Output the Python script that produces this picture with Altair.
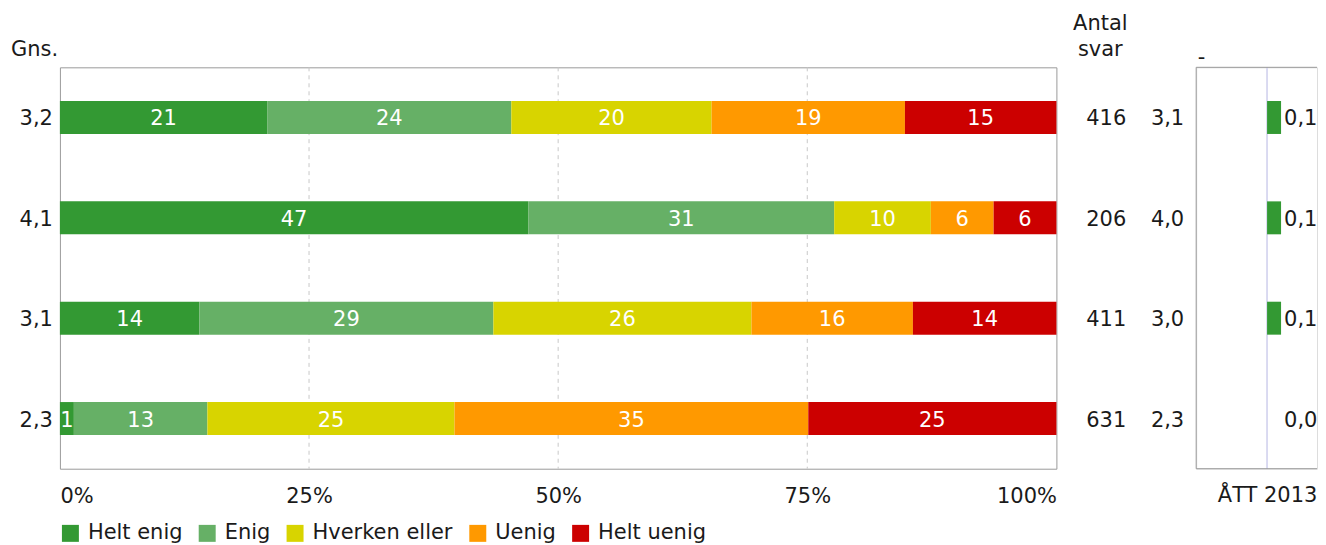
import altair as alt
import pandas as pd

# ---- data ----
categories = ["Helt enig", "Enig", "Hverken eller", "Uenig", "Helt uenig"]
colors = ["#339933", "#66b066", "#d8d400", "#ff9900", "#cc0000"]
rows = [1, 2, 3, 4]
pct = [
    [20.8, 24.5, 20.1, 19.4, 15.2],
    [47.0, 30.7, 9.7, 6.3, 6.3],
    [14.0, 29.5, 25.9, 16.2, 14.4],
    [1.4, 13.4, 24.8, 35.5, 24.9],
]
shown = [
    [21, 24, 20, 19, 15],
    [47, 31, 10, 6, 6],
    [14, 29, 26, 16, 14],
    [1, 13, 25, 35, 25],
]
gns = [3.2, 4.1, 3.1, 2.3]
antal = [416, 206, 411, 631]
att_gns = [3.1, 4.0, 3.0, 2.3]
att_diff = [0.1, 0.1, 0.1, 0.0]
x_ticks = [0, 25, 50, 75, 100]
grid_vals = [25, 50, 75]

FONT = "DejaVu Sans"
TXT = "#1a1a1a"
FS = 21
FRAME = "#9a9a9a"
DY = 2

# ---- tables ----
seg_records = []
for r, vals, labs in zip(rows, pct, shown):
    tot = sum(vals)
    acc = 0.0
    for c, v, l in zip(categories, vals, labs):
        s = acc / tot * 100
        acc += v
        e = acc / tot * 100
        seg_records.append({"row": r, "cat": c, "start": s, "end": e,
                            "mid": (s + e) / 2, "lab": str(l)})
seg = pd.DataFrame(seg_records)
rowdf = pd.DataFrame({"row": rows, "gns": gns, "antal": antal,
                      "att": att_gns, "diff": att_diff})
griddf = pd.DataFrame({"g": grid_vals})
one = pd.DataFrame({"k": [0]})

W, H = 998, 402
RW = 121
xscale = alt.Scale(domain=[0, 100], nice=False, zero=False)
xaxis = alt.Axis(values=x_ticks, labelExpr="datum.value + '%'", labelFlush=True,
                 ticks=False, domain=False, grid=False, labelFontSize=FS,
                 labelPadding=17, labelColor=TXT, title=None, labelFont=FONT)
yenc = alt.Y("row:O", axis=None, scale=alt.Scale(paddingInner=0, paddingOuter=0))

grid = alt.Chart(griddf).mark_rule(color="#c8c8c8", strokeDash=[4, 4]).encode(
    x=alt.X("g:Q", scale=xscale, axis=xaxis))

bars = alt.Chart(seg).mark_bar(size=33).encode(
    x=alt.X("start:Q", scale=xscale, axis=xaxis),
    x2="end:Q",
    y=yenc,
    color=alt.Color("cat:N", scale=alt.Scale(domain=categories, range=colors),
                    legend=alt.Legend(orient="none", legendX=0, legendY=456,
                                      direction="horizontal", title=None,
                                      symbolType="square", symbolSize=289,
                                      symbolStrokeWidth=0, labelFontSize=FS,
                                      labelFont=FONT, labelColor=TXT,
                                      columnPadding=14, labelOffset=7)),
)

bar_labels = alt.Chart(seg).mark_text(color="white", fontSize=FS, font=FONT, dy=DY).encode(
    x=alt.X("mid:Q", scale=xscale, axis=xaxis), y=yenc, text="lab:N")

gns_text = alt.Chart(rowdf).transform_calculate(
    s="replace(format(datum.gns, '.1f'), '.', ',')"
).mark_text(align="right", fontSize=FS, font=FONT, color=TXT, dy=DY).encode(
    x=alt.value(-7), y=yenc, text="s:N")

antal_text = alt.Chart(rowdf).mark_text(align="right", fontSize=FS, font=FONT, color=TXT,
                                        dy=DY).encode(
    x=alt.value(1068), y=yenc, text="antal:N")

att_text = alt.Chart(rowdf).transform_calculate(
    s="replace(format(datum.att, '.1f'), '.', ',')"
).mark_text(align="right", fontSize=FS, font=FONT, color=TXT, dy=DY).encode(
    x=alt.value(1126), y=yenc, text="s:N")

hdr_gns = alt.Chart(pd.DataFrame({"t": ["Gns."]})).mark_text(
    align="left", baseline="middle", fontSize=FS, font=FONT, color=TXT).encode(
    x=alt.value(-49), y=alt.value(-17), text="t:N")
hdr_antal = alt.Chart(pd.DataFrame({"t": ["Antal"]})).mark_text(
    align="center", baseline="middle", fontSize=FS, font=FONT, color=TXT).encode(
    x=alt.value(1042), y=alt.value(-43), text="t:N")
hdr_svar = alt.Chart(pd.DataFrame({"t": ["svar"]})).mark_text(
    align="center", baseline="middle", fontSize=FS, font=FONT, color=TXT).encode(
    x=alt.value(1042), y=alt.value(-17), text="t:N")

main = alt.layer(grid, bars, bar_labels, gns_text, antal_text, att_text,
                 hdr_gns, hdr_antal, hdr_svar).properties(
    width=W, height=H, view=alt.ViewBackground(stroke=FRAME, strokeWidth=1))

# ---- right panel (ÅTT 2013), cut at the window edge as in the reference ----
rscale = alt.Scale(domain=[-71 / 140, (RW - 71) / 140], nice=False, zero=False)
raxis = alt.Axis(orient="top", values=[-0.5], labelExpr="'-'", labelFlush=True,
                 ticks=False, domain=False, grid=False, labelFontSize=FS,
                 labelFont=FONT, labelColor=TXT, labelPadding=0,
                 title="ÅTT 2013", titleX=71, titleY=429, titleAlign="center",
                 titleBaseline="middle", titleFontSize=FS, titleFont=FONT,
                 titleFontWeight="normal", titleColor=TXT)

left_edge = alt.Chart(one).mark_rule(color=FRAME).encode(
    x=alt.value(0), y=alt.value(0), y2=alt.value(H))
top_edge = alt.Chart(one).mark_rule(color=FRAME).encode(
    x=alt.value(0), x2=alt.value(RW), y=alt.value(0))
bottom_edge = alt.Chart(one).mark_rule(color=FRAME).encode(
    x=alt.value(0), x2=alt.value(RW), y=alt.value(H))
center = alt.Chart(rowdf).transform_calculate(zero="0").mark_rule(color="#d8d8f0").encode(
    x=alt.X("zero:Q", scale=rscale, axis=raxis))
rbars = alt.Chart(rowdf).mark_bar(size=33, color="#339933").encode(
    x=alt.X("diff:Q", scale=rscale, axis=raxis), y=yenc)
rlabels = alt.Chart(rowdf).transform_calculate(
    s="replace(format(datum.diff, '.1f'), '.', ',')"
).mark_text(align="left", fontSize=FS, font=FONT, color=TXT, dy=DY).encode(
    x=alt.value(88), y=yenc, text="s:N")

right = alt.layer(center, left_edge, top_edge, bottom_edge, rbars, rlabels).properties(
    width=RW, height=H)

chart = alt.hconcat(main, right, spacing=140, bounds="flush").resolve_legend(
    color="independent"
).properties(
    padding={"left": 2, "top": 4, "right": 0, "bottom": 0}
).configure_view(stroke="transparent").configure(font=FONT)

chart.save("out.html", embed_options={"renderer": "svg", "actions": False})
